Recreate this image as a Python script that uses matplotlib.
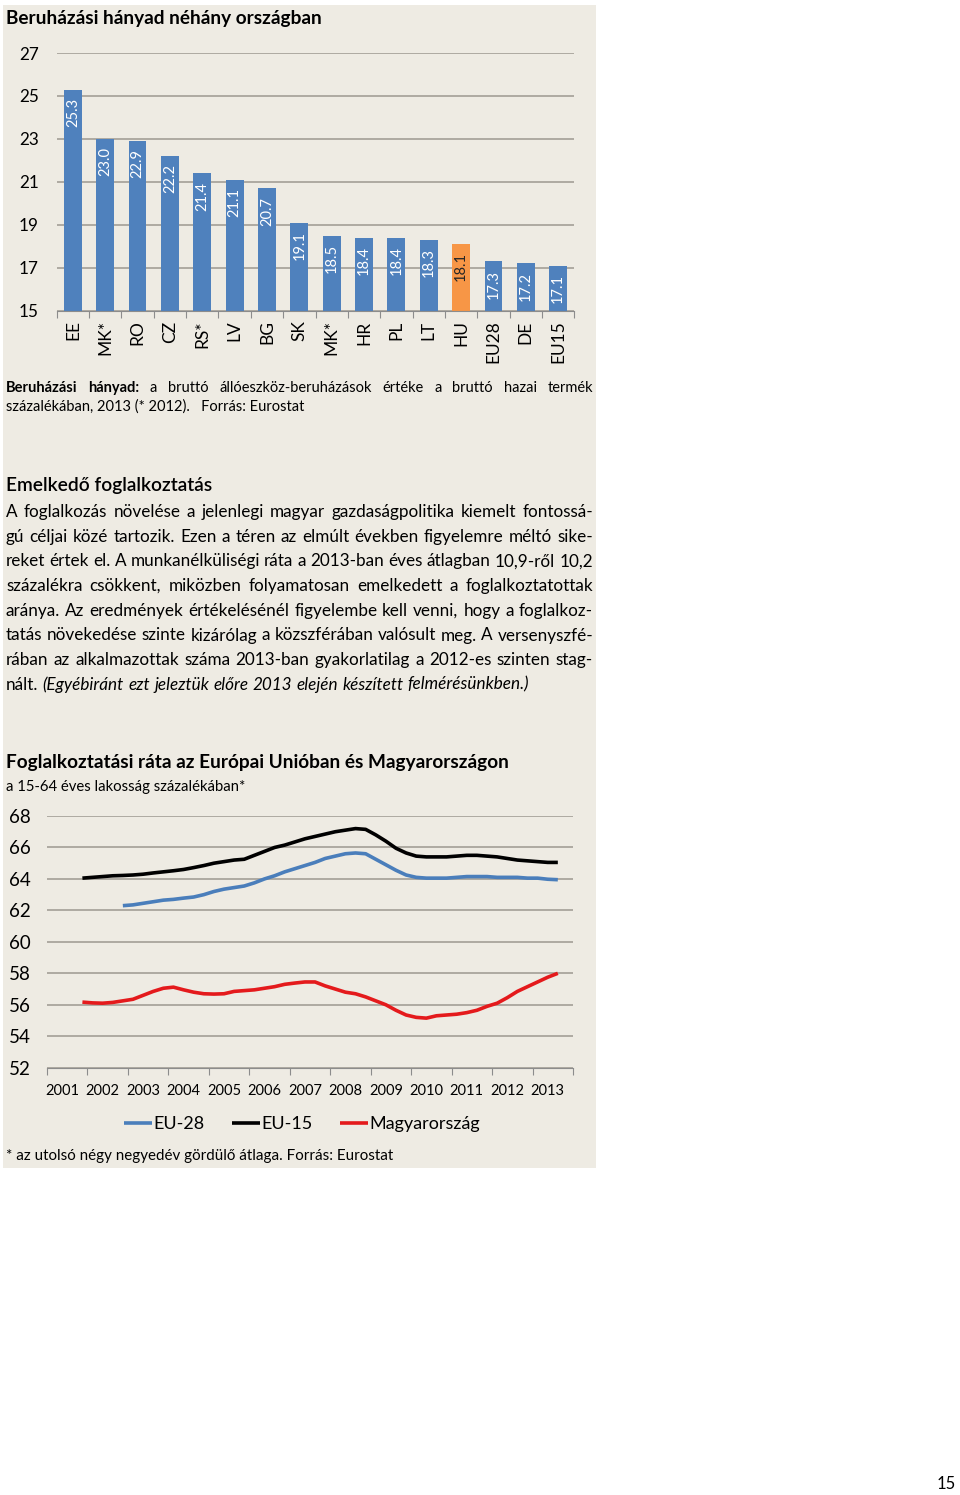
import numpy as np
import matplotlib
matplotlib.use("Agg")
import matplotlib.pyplot as plt
from matplotlib.patches import Rectangle

plt.rcParams['font.family'] = ['Lato', 'DejaVu Sans']

# beruházási hányad (bar chart)
countries = ['EE', 'MK*', 'RO', 'CZ', 'RS*', 'LV', 'BG', 'SK', 'MK*', 'HR', 'PL', 'LT',
             'HU', 'EU28', 'DE', 'EU15']
invest_share = [25.3, 23.0, 22.9, 22.2, 21.4, 21.1, 20.7, 19.1, 18.5, 18.4, 18.4, 18.3,
                18.1, 17.3, 17.2, 17.1]
highlight = 'HU'
bar_yticks = [15, 17, 19, 21, 23, 25, 27]

# foglalkoztatási ráta, negyedéves gördülő átlag (line chart)
years = list(range(2001, 2014))
eu15_first_q = (2001, 4)
eu15 = [64.05, 64.1, 64.15, 64.2, 64.22, 64.25, 64.3, 64.38, 64.45, 64.52, 64.6, 64.72,
        64.85, 65.0, 65.1, 65.2, 65.25, 65.5, 65.75, 66.0, 66.15, 66.35, 66.55, 66.7,
        66.85, 67.0, 67.1, 67.2, 67.15, 66.8, 66.4, 65.95, 65.65, 65.45, 65.4, 65.4,
        65.4, 65.45, 65.5, 65.5, 65.45, 65.4, 65.3, 65.2, 65.15, 65.1, 65.05, 65.05]
eu28_first_q = (2002, 4)
eu28 = [62.3, 62.35, 62.45, 62.55, 62.65, 62.7, 62.78, 62.85, 63.0, 63.2, 63.35, 63.45,
        63.55, 63.75, 64.0, 64.2, 64.45, 64.65, 64.85, 65.05, 65.3, 65.45, 65.6, 65.65,
        65.6, 65.25, 64.9, 64.55, 64.25, 64.1, 64.05, 64.05, 64.05, 64.1, 64.15, 64.15,
        64.15, 64.1, 64.1, 64.1, 64.05, 64.05, 63.98, 63.95]
hu_first_q = (2001, 4)
hu = [56.17, 56.12, 56.1, 56.15, 56.25, 56.35, 56.6, 56.85, 57.05, 57.12, 56.95, 56.8,
      56.7, 56.68, 56.7, 56.85, 56.9, 56.95, 57.05, 57.15, 57.3, 57.38, 57.45, 57.45,
      57.2, 57.0, 56.8, 56.7, 56.5, 56.25, 56.0, 55.65, 55.35, 55.2, 55.15, 55.3,
      55.35, 55.4, 55.5, 55.65, 55.9, 56.1, 56.45, 56.85, 57.15, 57.45, 57.75, 58.0]
line_yticks = [52, 54, 56, 58, 60, 62, 64, 66, 68]

caption_line1 = [('Beruházási', 'bold'), ('hányad:', 'bold'), ('a', None), ('bruttó', None),
                 ('állóeszköz-beruházások', None), ('értéke', None), ('a', None),
                 ('bruttó', None), ('hazai', None), ('termék', None)]
caption_line2 = 'százalékában, 2013 (* 2012).   Forrás: Eurostat'

paragraph = [
    'A foglalkozás növelése a jelenlegi magyar gazdaságpolitika kiemelt fontossá-',
    'gú céljai közé tartozik. Ezen a téren az elmúlt években figyelemre méltó sike-',
    'reket értek el. A munkanélküliségi ráta a 2013-ban éves átlagban 10,9-ről 10,2',
    'százalékra csökkent, miközben folyamatosan emelkedett a foglalkoztatottak',
    'aránya. Az eredmények értékelésénél figyelembe kell venni, hogy a foglalkoz-',
    'tatás növekedése szinte kizárólag a közszférában valósult meg. A versenyszfé-',
    'rában az alkalmazottak száma 2013-ban gyakorlatilag a 2012-es szinten stag-',
]
paragraph_last = 'nált.'
paragraph_last_italic = '(Egyébiránt ezt jeleztük előre 2013 elején készített felmérésünkben.)'

W, H = 960, 1495
fig = plt.figure(figsize=(W / 100, H / 100), dpi=100)
fig.patch.set_facecolor('white')
panel = '#EEEBE3'
fig.patches.append(Rectangle((3 / W, 1 - 1168 / H), 593 / W, 1163 / H,
                             transform=fig.transFigure, facecolor=panel,
                             edgecolor='none', zorder=-10))
renderer = fig.canvas.get_renderer()
grid_c = '#A39F97'


def fy(px):
    return 1 - px / H


def justify(words, y_px, size, x0=6, x1=593, just=True):
    # words: list of (text, weight/style)
    objs = []
    widths = []
    for w, st in words:
        kw = {}
        if st == 'bold':
            kw['fontweight'] = 'bold'
        elif st == 'italic':
            kw['fontstyle'] = 'italic'
        t = fig.text(0, fy(y_px), w, fontsize=size, va='baseline', ha='left', **kw)
        objs.append(t)
        widths.append(t.get_window_extent(renderer).width)
    sp = size * 100 / 72 * 0.25
    if just and len(words) > 1:
        sp = (x1 - x0 - sum(widths)) / (len(words) - 1)
    x = x0
    for t, w in zip(objs, widths):
        t.set_x(x / W)
        x += w + sp


# ---- top: bar chart ----
fig.text(6 / W, fy(24), 'Beruházási hányad néhány országban', fontsize=13.7,
         fontweight='bold', va='baseline')

ax = fig.add_axes([56.7 / W, fy(310.7), 517.6 / W, 257.7 / H])
ax.set_facecolor('none')
xpos = np.arange(len(countries))
colors = ['#F79646' if c == highlight else '#4F81BD' for c in countries]
ax.bar(xpos, np.array(invest_share) - 15, bottom=15, width=0.55, color=colors, zorder=2)
for i, v in enumerate(invest_share):
    ax.annotate('%.1f' % v, xy=(i, v), xytext=(0, -6), textcoords='offset points',
                rotation=90, ha='center', va='top', fontsize=10.5,
                color='#262626' if countries[i] == highlight else 'white', zorder=3)
ax.set_xlim(-0.5, len(countries) - 0.5)
ax.set_ylim(15, 27)
ax.set_yticks(bar_yticks)
ax.set_yticklabels([str(t) for t in bar_yticks], fontsize=12.3)
ax.tick_params(axis='y', length=0, pad=13)
ax.set_xticks(np.arange(-0.5, len(countries)), minor=False)
ax.set_xticklabels([])
ax.set_xticks(xpos, minor=True)
ax.set_xticklabels(countries, minor=True, rotation=90, fontsize=12.5)
ax.tick_params(axis='x', which='major', length=5, color='#8C8C8C', direction='out')
ax.tick_params(axis='x', which='minor', length=0, pad=7)
ax.yaxis.grid(True, color=grid_c, lw=1.2)
ax.set_axisbelow(True)
for s in ['top', 'right', 'left']:
    ax.spines[s].set_visible(False)
ax.spines['bottom'].set_color('#8C8C8C')

justify(caption_line1, 392, 10.5)
fig.text(6 / W, fy(411), caption_line2, fontsize=10.5, va='baseline')

# ---- text ----
fig.text(6 / W, fy(491), 'Emelkedő foglalkoztatás', fontsize=13.8, fontweight='semibold',
         va='baseline')
for k, line in enumerate(paragraph):
    justify([(w, None) for w in line.split()], 517 + 24.7 * k, 12.3)
last = [(paragraph_last, None)] + [(w, 'italic') for w in paragraph_last_italic.split()]
justify(last, 517 + 24.7 * len(paragraph), 12.3, just=False)

# ---- line chart ----
fig.text(6 / W, fy(768), 'Foglalkoztatási ráta az Európai Unióban és Magyarországon',
         fontsize=13.7, fontweight='bold', va='baseline')
fig.text(6 / W, fy(791), 'a 15-64 éves lakosság százalékában*', fontsize=10.7,
         va='baseline')


def qx(first, n):
    y0, q0 = first
    idx = (y0 - 2001) * 4 + (q0 - 1) + np.arange(n)
    return 2001 + (idx + 0.5) / 4


ax2 = fig.add_axes([47 / W, fy(1067.7), 526 / W, 251.7 / H])
ax2.set_facecolor('none')
l28, = ax2.plot(qx(eu28_first_q, len(eu28)), eu28, color='#4A7EBB', lw=2.6,
                solid_capstyle='butt', label='EU-28')
l15, = ax2.plot(qx(eu15_first_q, len(eu15)), eu15, color='black', lw=2.6,
                solid_capstyle='butt', label='EU-15')
lhu, = ax2.plot(qx(hu_first_q, len(hu)), hu, color='#E41A1C', lw=2.6,
                solid_capstyle='butt', label='Magyarország')
ax2.set_xlim(years[0], years[-1] + 1)
ax2.set_ylim(52, 68)
ax2.set_yticks(line_yticks)
ax2.set_yticklabels([str(t) for t in line_yticks], fontsize=13.5)
ax2.tick_params(axis='y', length=0, pad=12)
ax2.set_xticks(list(years) + [years[-1] + 1])
ax2.set_xticklabels([])
# year labels sit under the 2nd quarter of each year
ax2.set_xticks(np.array(years) + 0.375, minor=True)
ax2.set_xticklabels([str(y) for y in years], minor=True, fontsize=10.5)
ax2.tick_params(axis='x', which='major', length=5, color='#8C8C8C', direction='out')
ax2.tick_params(axis='x', which='minor', length=0, pad=12)
ax2.yaxis.grid(True, color=grid_c, lw=1.2)
ax2.set_axisbelow(True)
for s in ['top', 'right', 'left']:
    ax2.spines[s].set_visible(False)
ax2.spines['bottom'].set_color('#8C8C8C')

ax2.legend(handles=[l28, l15, lhu], loc='center', bbox_to_anchor=(302 / W, fy(1124)),
           bbox_transform=fig.transFigure, ncol=3, frameon=False, fontsize=13,
           handlelength=1.55, handletextpad=0.1, columnspacing=1.5)

fig.text(6 / W, fy(1160), '* az utolsó négy negyedév gördülő átlaga. Forrás: Eurostat',
         fontsize=10.9, va='baseline')

fig.text(956 / W, fy(1489), '15', fontsize=12, ha='right', va='baseline')

fig.savefig('out.png', dpi=100, facecolor='white')
